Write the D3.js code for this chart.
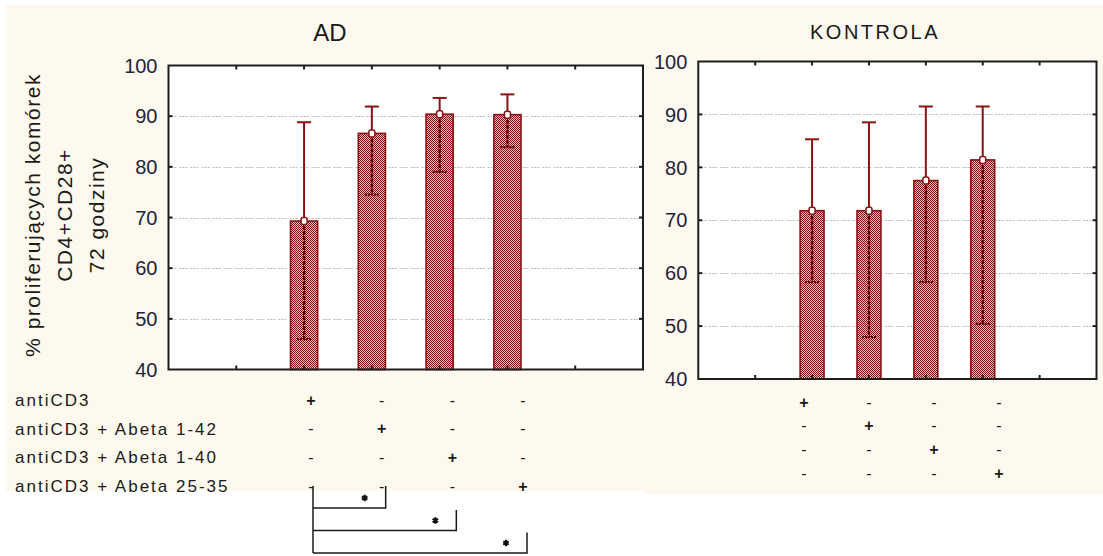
<!DOCTYPE html>
<html>
<head>
<meta charset="utf-8">
<script src="https://cdn.jsdelivr.net/npm/d3@7"></script>
<style>
  body { margin: 0; background: #ffffff; }
  svg { display: block; }
  text { font-family: "Liberation Sans", Arial, sans-serif; }
</style>
</head>
<body>
<svg id="chart" width="1103" height="556"></svg>
<script>
// Treatment rows shown under each panel
const treatments = ["antiCD3", "antiCD3 + Abeta 1-42", "antiCD3 + Abeta 1-40", "antiCD3 + Abeta 25-35"];
// Proliferating CD4+CD28+ cells after 72 h (%): mean and error-bar ends
const adMean = [69.3, 86.6, 90.4, 90.3];
const adUpper = [88.8, 91.9, 93.6, 94.3];
const adLower = [46.0, 74.5, 79.0, 83.9];
const kontrolaMean = [71.8, 71.8, 77.5, 81.4];
const kontrolaUpper = [85.3, 88.5, 91.5, 91.5];
const kontrolaLower = [58.3, 47.9, 58.3, 50.4];
const yTicks = [40, 50, 60, 70, 80, 90, 100];
// Significant differences in the AD group (pairs of treatment columns)
const adSignificant = [[0, 1], [0, 2], [0, 3]];

const svg = d3.select("#chart");
const RED = "#8b1212";

// checkered fill used by all bars
const defs = svg.append("defs");
const pat = defs.append("pattern").attr("id", "check")
  .attr("width", 2).attr("height", 2).attr("patternUnits", "userSpaceOnUse");
pat.append("rect").attr("width", 2).attr("height", 2).attr("fill", "#e4bcbc");
pat.append("rect").attr("x", 0).attr("y", 0).attr("width", 1).attr("height", 1).attr("fill", "#7e1414");
pat.append("rect").attr("x", 1).attr("y", 1).attr("width", 1).attr("height", 1).attr("fill", "#7e1414");

// cream panel backgrounds
svg.append("rect").attr("x", 6).attr("y", 5).attr("width", 639).attr("height", 486).attr("fill", "#fef9ee");
svg.append("rect").attr("x", 645).attr("y", 5).attr("width", 458).attr("height", 489).attr("fill", "#fef9ee");

function drawPanel(cfg, means, upper, lower) {
  const g = svg.append("g");
  const x = d3.scaleLinear().domain([0, 7]).range([cfg.x0, cfg.x1]);
  const y = d3.scaleLinear().domain([40, 100]).range([cfg.y1, cfg.y0]);
  const bw = (x(1) - x(0)) * cfg.barFrac;
  const pos = means.map((d, i) => i + 2);

  g.append("rect").attr("x", cfg.x0).attr("y", cfg.y0)
    .attr("width", cfg.x1 - cfg.x0).attr("height", cfg.y1 - cfg.y0).attr("fill", "#ffffff");

  // dotted horizontal grid
  g.selectAll(".grid").data(yTicks.filter(t => t > 40 && t < 100)).join("line")
    .attr("x1", cfg.x0).attr("x2", cfg.x1)
    .attr("y1", d => Math.round(y(d)) + 0.5).attr("y2", d => Math.round(y(d)) + 0.5)
    .attr("stroke", "#bcbcbc").attr("stroke-width", 1).attr("stroke-dasharray", "2,1,2,1,2,3");

  // bars
  g.selectAll(".bar").data(means).join("rect")
    .attr("x", (d, i) => x(pos[i]) - bw / 2).attr("width", bw)
    .attr("y", d => y(d)).attr("height", d => y(40) - y(d))
    .attr("fill", "url(#check)").attr("stroke", RED).attr("stroke-width", 1.6);

  // error bars: upper part solid above the bar, lower part inside the bar
  const cap = 14;
  means.forEach((m, i) => {
    const cx = x(pos[i]);
    g.append("line").attr("x1", cx).attr("x2", cx).attr("y1", y(m)).attr("y2", y(upper[i]))
      .attr("stroke", RED).attr("stroke-width", 2);
    g.append("line").attr("x1", cx - cap / 2).attr("x2", cx + cap / 2)
      .attr("y1", y(upper[i])).attr("y2", y(upper[i])).attr("stroke", RED).attr("stroke-width", 2);
    g.append("line").attr("x1", cx).attr("x2", cx).attr("y1", y(m)).attr("y2", y(lower[i]))
      .attr("stroke", "#5a0000").attr("stroke-width", 2.4).attr("stroke-dasharray", "4,1");
    g.append("line").attr("x1", cx - cap / 2).attr("x2", cx + cap / 2)
      .attr("y1", y(lower[i])).attr("y2", y(lower[i]))
      .attr("stroke", "#5a0000").attr("stroke-width", 2.2).attr("stroke-dasharray", "2,1");
    g.append("rect").attr("x", cx - 3).attr("y", y(m) - 3.5).attr("width", 6).attr("height", 7)
      .attr("rx", 2).attr("fill", "#ffffff").attr("stroke", RED).attr("stroke-width", 1.5);
  });

  // frame and inward ticks
  g.append("rect").attr("x", cfg.x0).attr("y", cfg.y0)
    .attr("width", cfg.x1 - cfg.x0).attr("height", cfg.y1 - cfg.y0)
    .attr("fill", "none").attr("stroke", "#1e1e1e").attr("stroke-width", 2);
  const xt = d3.range(1, 7);
  g.selectAll(".xtt").data(xt).join("line")
    .attr("x1", d => x(d)).attr("x2", d => x(d)).attr("y1", cfg.y0).attr("y2", cfg.y0 + 4)
    .attr("stroke", "#1e1e1e").attr("stroke-width", 2);
  g.selectAll(".xtb").data(xt).join("line")
    .attr("x1", d => x(d)).attr("x2", d => x(d)).attr("y1", cfg.y1).attr("y2", cfg.y1 - 4)
    .attr("stroke", "#1e1e1e").attr("stroke-width", 2);
  const yt = yTicks.filter(t => t > 40 && t < 100);
  g.selectAll(".ytl").data(yt).join("line")
    .attr("x1", cfg.x0).attr("x2", cfg.x0 + 4).attr("y1", d => y(d)).attr("y2", d => y(d))
    .attr("stroke", "#1e1e1e").attr("stroke-width", 2);
  g.selectAll(".ytr").data(yt).join("line")
    .attr("x1", cfg.x1).attr("x2", cfg.x1 - 4).attr("y1", d => y(d)).attr("y2", d => y(d))
    .attr("stroke", "#1e1e1e").attr("stroke-width", 2);

  // y tick labels
  g.selectAll(".ylab").data(yTicks).join("text")
    .attr("x", cfg.x0 - 11).attr("y", d => y(d)).attr("dy", "0.36em")
    .attr("text-anchor", "end").attr("font-size", 20).attr("fill", "#23233a")
    .text(d => d);

  // title
  g.append("text").attr("x", cfg.titleX).attr("y", cfg.titleY)
    .attr("text-anchor", "middle").attr("font-size", cfg.titleSize)
    .attr("letter-spacing", cfg.titleSpacing).attr("fill", "#1a1a1a").text(cfg.title);

  // +/- treatment table
  const col = d3.scaleLinear().domain([0, 3]).range(cfg.colRange);
  const row = d3.scaleLinear().domain([0, 3]).range(cfg.rowRange);
  treatments.forEach((t, r) => {
    means.forEach((m, c) => {
      g.append("text").attr("x", col(c)).attr("y", row(r)).attr("dy", "0.36em")
        .attr("text-anchor", "middle").attr("font-size", 16).attr("font-weight", r === c ? "bold" : "normal")
        .attr("fill", "#1a1a1a").text(r === c ? "+" : "-");
    });
  });
  return { col, row };
}

const ad = drawPanel({
  x0: 168.5, x1: 643, y0: 65.5, y1: 369.5, barFrac: 0.4,
  title: "AD", titleX: 330, titleY: 41, titleSize: 24, titleSpacing: 0,
  colRange: [311, 523], rowRange: [400, 486]
}, adMean, adUpper, adLower);

drawPanel({
  x0: 698.3, x1: 1096.5, y0: 61.5, y1: 379, barFrac: 0.42,
  title: "KONTROLA", titleX: 875, titleY: 39, titleSize: 20, titleSpacing: 2.5,
  colRange: [804, 999], rowRange: [402, 473]
}, kontrolaMean, kontrolaUpper, kontrolaLower);

// treatment row labels
svg.selectAll(".rowlab").data(treatments).join("text")
  .attr("x", 15).attr("y", (d, i) => ad.row(i)).attr("dy", "0.36em")
  .attr("font-size", 17).attr("letter-spacing", 2).attr("fill", "#1a1a1a")
  .text(d => d);

// y-axis title, three lines
const yTitle = ["% proliferujących komórek", "CD4+CD28+", "72 godziny"];
svg.selectAll(".ytitle").data(yTitle).join("text")
  .attr("transform", (d, i) => `translate(${32 + i * 32},215) rotate(-90)`)
  .attr("dy", "0.36em").attr("text-anchor", "middle")
  .attr("font-size", 21).attr("letter-spacing", 1.5).attr("fill", "#1a1a1a")
  .text(d => d);

// significance brackets below the AD table
const bx0 = ad.col(0) + 2;
const levels = adSignificant.map((p, k) => ad.row(3) + 22 + k * 22.5);
svg.append("line").attr("x1", bx0).attr("x2", bx0)
  .attr("y1", ad.row(3)).attr("y2", levels[levels.length - 1])
  .attr("stroke", "#1a1a1a").attr("stroke-width", 1.5);
adSignificant.forEach((p, k) => {
  const xe = ad.col(p[1]) + 4;
  const top = k === 0 ? ad.row(3) : levels[k - 1] + 2;
  svg.append("polyline")
    .attr("points", `${bx0},${levels[k]} ${xe},${levels[k]} ${xe},${top}`)
    .attr("fill", "none").attr("stroke", "#1a1a1a").attr("stroke-width", 1.5);
  svg.append("path")
    .attr("d", d3.symbol(d3.symbolAsterisk, 28)())
    .attr("transform", `translate(${xe - 21},${levels[k] - 10})`)
    .attr("fill", "none").attr("stroke", "#111").attr("stroke-width", 2.2);
});
</script>
</body>
</html>
